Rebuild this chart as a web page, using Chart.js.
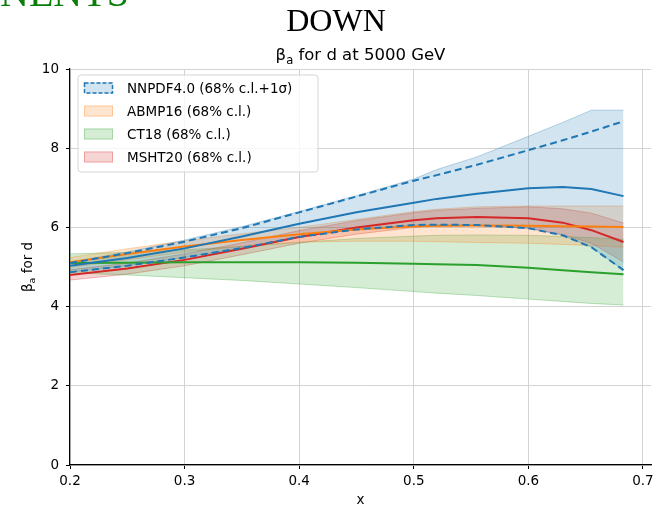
<!DOCTYPE html>
<html>
<head>
<meta charset="utf-8">
<script src="https://cdn.jsdelivr.net/npm/chart.js@4.4.1/dist/chart.umd.min.js"></script>
<style>
  html, body { margin: 0; padding: 0; background: #fff; }
  #wrap { width: 653px; height: 510px; position: relative; }
</style>
</head>
<body>
<div id="wrap"><canvas id="betaChart" width="653" height="510"></canvas></div>
<script>
// x grid of the curves
const xs = [0.2, 0.25, 0.3, 0.35, 0.4, 0.45, 0.5, 0.52, 0.555, 0.6, 0.63, 0.655, 0.683];

// NNPDF4.0: central, 68% c.l. band, +-1 sigma (dashed)
const nnpdfCentral   = [5.03, 5.23, 5.47, 5.77, 6.09, 6.38, 6.62, 6.72, 6.85, 6.99, 7.02, 6.97, 6.79];
const nnpdfUpper     = [5.12, 5.38, 5.68, 6.02, 6.40, 6.80, 7.22, 7.46, 7.78, 8.30, 8.65, 8.96, 8.96];
const nnpdfLower     = [4.87, 5.03, 5.24, 5.48, 5.76, 5.95, 6.06, 6.07, 6.06, 5.98, 5.80, 5.50, 4.92];
const nnpdfSigmaUp   = [5.10, 5.35, 5.64, 5.98, 6.38, 6.78, 7.18, 7.32, 7.58, 7.95, 8.20, 8.42, 8.68];
const nnpdfSigmaDown = [4.87, 5.03, 5.24, 5.48, 5.76, 5.95, 6.06, 6.07, 6.06, 5.98, 5.80, 5.50, 4.92];

// ABMP16
const abmpCentral = [5.12, 5.33, 5.52, 5.68, 5.83, 5.95, 6.03, 6.04, 6.05, 6.04, 6.03, 6.02, 6.01];
const abmpUpper   = [5.24, 5.46, 5.66, 5.84, 6.00, 6.20, 6.40, 6.46, 6.52, 6.54, 6.54, 6.54, 6.54];
const abmpLower   = [4.99, 5.18, 5.38, 5.52, 5.63, 5.65, 5.65, 5.64, 5.62, 5.60, 5.57, 5.54, 5.50];

// CT18
const ct18Central = [5.10, 5.11, 5.12, 5.12, 5.12, 5.11, 5.08, 5.07, 5.05, 4.98, 4.92, 4.87, 4.82];
const ct18Upper   = [5.33, 5.37, 5.43, 5.52, 5.62, 5.72, 5.78, 5.80, 5.81, 5.80, 5.77, 5.74, 5.70];
const ct18Lower   = [4.85, 4.80, 4.73, 4.66, 4.57, 4.48, 4.38, 4.34, 4.28, 4.19, 4.13, 4.08, 4.04];

// MSHT20
const mshtCentral = [4.80, 4.96, 5.18, 5.46, 5.76, 6.00, 6.18, 6.23, 6.26, 6.23, 6.12, 5.93, 5.63];
const mshtUpper   = [4.93, 5.10, 5.33, 5.61, 5.92, 6.17, 6.37, 6.43, 6.48, 6.52, 6.47, 6.36, 6.11];
const mshtLower   = [4.67, 4.82, 5.03, 5.31, 5.60, 5.83, 6.00, 6.03, 6.04, 5.98, 5.82, 5.60, 5.13];

const xTicks = [0.2, 0.3, 0.4, 0.5, 0.6, 0.7];
const yTicks = [0, 2, 4, 6, 8, 10];

const legendLabels = ['NNPDF4.0 (68% c.l.+1\u03c3)', 'ABMP16 (68% c.l.)', 'CT18 (68% c.l.)', 'MSHT20 (68% c.l.)'];
const colors = ['31,119,180', '255,127,14', '44,160,44', '214,39,40'];

function pts(ys) {
    return xs.map((x, i) => ({ x: x, y: ys[i] }));
}

// band = upper line filled down to the next dataset (lower)
function band(upper, lower, rgb) {
    return [
        { data: pts(upper), borderColor: 'rgba(' + rgb + ',0.3)', borderWidth: 1, backgroundColor: 'rgba(' + rgb + ',0.2)', fill: '+1', pointRadius: 0, order: 5 },
        { data: pts(lower), borderColor: 'rgba(' + rgb + ',0.3)', borderWidth: 1, fill: false, pointRadius: 0, order: 5 }
    ];
}

function line(ys, rgb, dashed) {
    return { data: pts(ys), borderColor: 'rgb(' + rgb + ')', borderWidth: 2, borderDash: dashed ? [7, 4] : [], fill: false, pointRadius: 0, order: 1 };
}

const datasets = [].concat(
    band(nnpdfUpper, nnpdfLower, colors[0]),
    band(abmpUpper, abmpLower, colors[1]),
    band(ct18Upper, ct18Lower, colors[2]),
    band(mshtUpper, mshtLower, colors[3]),
    [
        line(nnpdfCentral, colors[0], false),
        line(nnpdfSigmaUp, colors[0], true),
        line(nnpdfSigmaDown, colors[0], true),
        line(abmpCentral, colors[1], false),
        line(ct18Central, colors[2], false),
        line(mshtCentral, colors[3], false)
    ]
);

// titles, axis labels and the matplotlib-like legend
const decorations = {
    id: 'decorations',
    afterDraw(chart) {
        const ctx = chart.ctx;
        const area = chart.chartArea;
        const midX = (area.left + area.right) / 2;
        ctx.save();

        // cut-off suptitle of the page above
        ctx.fillStyle = '#0a7d0a';
        ctx.font = '40px "Liberation Serif", "DejaVu Serif", serif';
        ctx.textAlign = 'left';
        ctx.textBaseline = 'alphabetic';
        ctx.fillText('NENTS', 0, 6);

        ctx.fillStyle = '#000';
        ctx.font = '32px "Liberation Serif", "DejaVu Serif", serif';
        ctx.textAlign = 'center';
        ctx.fillText('DOWN', 336, 31);

        // text with a subscript a after beta
        function betaText(cx, base, rest, size) {
            const big = size + 'px "DejaVu Sans", sans-serif';
            const small = (size * 0.7) + 'px "DejaVu Sans", sans-serif';
            ctx.font = big;
            const w1 = ctx.measureText('\u03b2').width;
            ctx.font = small;
            const w2 = ctx.measureText('a').width;
            ctx.font = big;
            const w3 = ctx.measureText(rest).width;
            const x0 = cx - (w1 + w2 + w3) / 2;
            ctx.textAlign = 'left';
            ctx.fillText('\u03b2', x0, base);
            ctx.font = small;
            ctx.fillText('a', x0 + w1, base + size * 0.25);
            ctx.font = big;
            ctx.fillText(rest, x0 + w1 + w2, base);
        }
        betaText(midX, 60, ' for d at 5000 GeV', 16.5);

        // y title, rotated
        ctx.save();
        ctx.translate(32, (area.top + area.bottom) / 2);
        ctx.rotate(-Math.PI / 2);
        betaText(0, 0, ' for d', 13.5);
        ctx.restore();

        // x title
        ctx.font = '13.5px "DejaVu Sans", sans-serif';
        ctx.textAlign = 'center';
        ctx.fillText('x', midX, 504);

        // legend box
        const bx = 78, by = 75, bw = 240, bh = 97;
        ctx.beginPath();
        ctx.roundRect(bx, by, bw, bh, 3);
        ctx.fillStyle = 'rgba(255,255,255,0.8)';
        ctx.fill();
        ctx.strokeStyle = '#d5d5d5';
        ctx.lineWidth = 1;
        ctx.stroke();

        ctx.font = '13.5px "DejaVu Sans", sans-serif';
        ctx.textAlign = 'left';
        ctx.textBaseline = 'middle';
        legendLabels.forEach((txt, i) => {
            const ry = 88 + i * 23;
            ctx.fillStyle = 'rgba(' + colors[i] + ',0.2)';
            ctx.fillRect(84, ry - 5.5, 29, 11);
            if (i === 0) {
                ctx.setLineDash([4, 2]);
                ctx.strokeStyle = 'rgb(' + colors[0] + ')';
                ctx.lineWidth = 1.5;
            } else {
                ctx.setLineDash([]);
                ctx.strokeStyle = 'rgba(' + colors[i] + ',0.3)';
                ctx.lineWidth = 1;
            }
            ctx.strokeRect(84.5, ry - 5, 28, 10);
            ctx.setLineDash([]);
            ctx.fillStyle = '#000';
            ctx.fillText(txt, 127, ry + 1);
        });
        ctx.restore();
    }
};

const tickFont = { family: '"DejaVu Sans", sans-serif', size: 13.5 };

new Chart(document.getElementById('betaChart').getContext('2d'), {
    type: 'line',
    data: { datasets: datasets },
    plugins: [decorations],
    options: {
        responsive: false,
        animation: false,
        layout: { padding: { top: 69, right: 2, left: 0, bottom: 0 } },
        plugins: {
            legend: { display: false },
            title: { display: false },
            tooltip: { enabled: false },
            filler: { propagate: false }
        },
        elements: { line: { tension: 0 } },
        scales: {
            x: {
                type: 'linear',
                min: 0.2,
                max: 0.707,
                afterBuildTicks(scale) { scale.ticks = xTicks.map(v => ({ value: v })); },
                afterFit(scale) { scale.height = 45; scale.paddingLeft = 0; scale.paddingRight = 0; },
                ticks: { color: '#000', font: tickFont, padding: 4, maxRotation: 0, callback: v => v.toFixed(1) },
                grid: { color: '#d3d3d3', tickColor: '#000', tickLength: 4, lineWidth: 1 },
                border: { color: '#000', width: 1.2 }
            },
            y: {
                type: 'linear',
                min: 0,
                max: 10,
                afterBuildTicks(scale) { scale.ticks = yTicks.map(v => ({ value: v })); },
                afterFit(scale) { scale.width = 70; scale.paddingTop = 0; scale.paddingBottom = 0; },
                ticks: { color: '#000', font: tickFont, padding: 7, callback: v => String(v) },
                grid: { color: '#d3d3d3', tickColor: '#000', tickLength: 4, lineWidth: 1 },
                border: { color: '#000', width: 1.2 }
            }
        }
    }
});
</script>
</body>
</html>
